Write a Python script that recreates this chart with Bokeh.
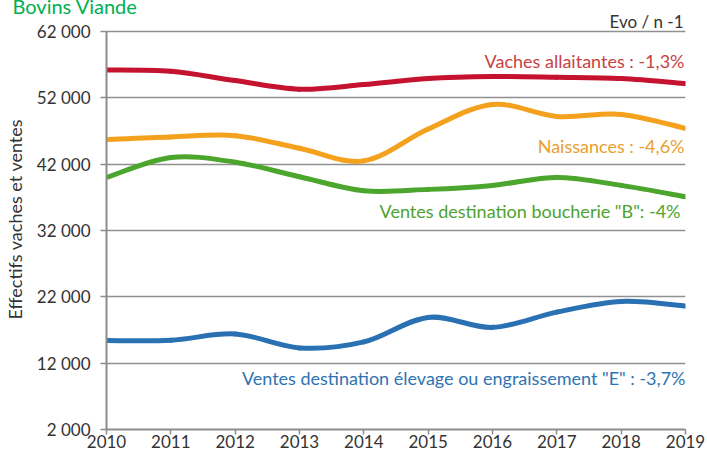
import numpy as np
from bokeh.plotting import figure
from bokeh.models import FixedTicker, Label, Range1d
from bokeh.embed import file_html
from bokeh.resources import INLINE

years = [2010, 2011, 2012, 2013, 2014, 2015, 2016, 2017, 2018, 2019]
vaches_allaitantes = [56200, 56000, 54600, 53300, 54000, 54900, 55200, 55100, 54900, 54150]
naissances = [45700, 46100, 46300, 44400, 42500, 47300, 51000, 49200, 49500, 47400]
ventes_boucherie = [40000, 43000, 42300, 40100, 38000, 38200, 38800, 40000, 38800, 37100]
ventes_elevage = [15400, 15450, 16400, 14300, 15200, 18900, 17400, 19700, 21300, 20600]

y_ticks = [2000, 12000, 22000, 32000, 42000, 52000, 62000]
y_tick_labels = ["2 000", "12 000", "22 000", "32 000", "42 000", "52 000", "62 000"]
x_tick_labels = [str(y) for y in years]

series_labels = [
    'Vaches allaitantes : -1,3%',
    'Naissances : -4,6%',
    'Ventes destination boucherie "B": -4%',
    'Ventes destination élevage ou engraissement "E" : -3,7%',
]

FONT = "Lato"
W, H = 707, 453
FL, FT, FB = 106, 8, 429      # frame left / top / bottom (canvas px)
Y62_PX, Y2_PX = 31, 429       # pixel rows of the 62 000 and 2 000 ticks
ymin, ymax = y_ticks[0], y_ticks[-1]
y_end = ymax + (Y62_PX - FT) * (ymax - ymin) / (Y2_PX - Y62_PX)

p = figure(width=W, height=H, output_backend="svg", toolbar_location=None,
           x_range=Range1d(years[0], years[-1]), y_range=Range1d(ymin, y_end),
           min_border_left=FL, min_border_right=22, min_border_top=FT,
           min_border_bottom=H - FB)
p.outline_line_color = None
p.background_fill_color = "white"
p.border_fill_color = "white"

p.title.text = "Bovins Viande"
p.title.align = "left"
p.title.offset = 12 - FL
p.title.text_font = FONT
p.title.text_font_size = "20px"
p.title.text_font_style = "normal"
p.title.text_color = "#00B050"
p.title.standoff = -18
p.title.vertical_align = "bottom"

p.xaxis.ticker = FixedTicker(ticks=years)
p.xaxis.major_label_overrides = {y: l for y, l in zip(years, x_tick_labels)}
p.yaxis.ticker = FixedTicker(ticks=y_ticks)
p.yaxis.major_label_overrides = {t: l for t, l in zip(y_ticks, y_tick_labels)}
p.yaxis.bounds = (ymin, ymax)
for ax in (p.xaxis, p.yaxis):
    ax.axis_line_color = "#8c8c8c"
    ax.axis_line_width = 2
    ax.major_tick_line_color = "#8c8c8c"
    ax.major_tick_line_width = 1.5
    ax.major_tick_in = 0
    ax.minor_tick_line_color = None
    ax.major_label_text_font = FONT
    ax.major_label_text_font_size = "17px"
    ax.major_label_text_color = "#333333"
p.xaxis.major_tick_out = 5
p.xaxis.major_label_standoff = 0
p.yaxis.major_tick_out = 6
p.yaxis.major_label_standoff = 10
p.yaxis.axis_label = "Effectifs vaches et ventes"
p.yaxis.axis_label_text_font = FONT
p.yaxis.axis_label_text_font_size = "18px"
p.yaxis.axis_label_text_font_style = "normal"
p.yaxis.axis_label_text_color = "#333333"
p.yaxis.axis_label_standoff = 8

p.xgrid.grid_line_color = None
p.ygrid.grid_line_color = "#909090"
p.ygrid.grid_line_width = 1.5


def smooth(xs, ys):
    x = np.asarray(xs, float)
    y = np.asarray(ys, float)
    n = len(x)
    xp = np.concatenate([[x[0]], x, [x[-1]]])
    yp = np.concatenate([[y[0]], y, [y[-1]]])
    d = dict(x0=[], y0=[], x1=[], y1=[], cx0=[], cy0=[], cx1=[], cy1=[])
    for i in range(n - 1):
        j = i + 1
        d["x0"].append(x[i]); d["y0"].append(y[i])
        d["x1"].append(x[i + 1]); d["y1"].append(y[i + 1])
        d["cx0"].append(x[i] + (xp[j + 1] - xp[j - 1]) / 6)
        d["cy0"].append(y[i] + (yp[j + 1] - yp[j - 1]) / 6)
        d["cx1"].append(x[i + 1] - (xp[j + 2] - xp[j]) / 6)
        d["cy1"].append(y[i + 1] - (yp[j + 2] - yp[j]) / 6)
    return d

line_colors = ["#C4122F", "#F4A11D", "#4CA52C", "#2A71B3"]
text_colors = ["#C8423F", "#E8A02E", "#4EA32F", "#2E73B3"]
all_series = [vaches_allaitantes, naissances, ventes_boucherie, ventes_elevage]

for vals, col in zip(all_series, line_colors):
    d = smooth(years, vals)
    p.bezier(x0=d["x0"], y0=d["y0"], x1=d["x1"], y1=d["y1"],
             cx0=d["cx0"], cy0=d["cy0"], cx1=d["cx1"], cy1=d["cy1"],
             line_color=col, line_width=5, line_cap="round")

label_pos = [(684, 60), (684, 145), (680, 210), (685, 377)]
for txt, col, (sx, sy) in zip(series_labels, text_colors, label_pos):
    p.add_layout(Label(x=sx - FL, y=FB - sy, x_units="screen", y_units="screen", text=txt,
                       text_color=col, text_font=FONT, text_font_size="18px",
                       text_align="right", text_baseline="middle"))

p.add_layout(Label(x=683 - FL, y=FB - 21, x_units="screen", y_units="screen", text="Evo / n -1",
                   text_color="#333333", text_font=FONT, text_font_size="17px",
                   text_align="right", text_baseline="middle"))

open("out.html", "w").write(file_html(p, INLINE))
